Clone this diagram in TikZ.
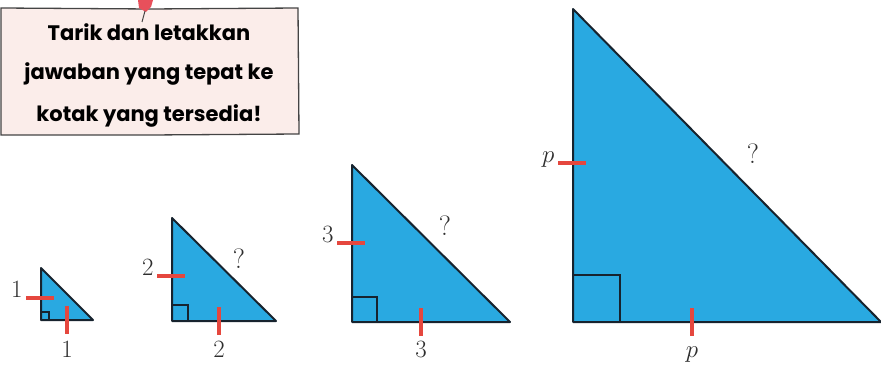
\documentclass[tikz,border=0pt]{standalone}
\usepackage{fontspec}
\newfontfamily\notefont{Poppins}
\usetikzlibrary{positioning}
\definecolor{skyfill}{HTML}{29A9E1}
\definecolor{edgeink}{HTML}{17232E}
\definecolor{tickred}{HTML}{E5473E}
\definecolor{notepink}{HTML}{FBEDEA}
\definecolor{noteline}{HTML}{444444}
\definecolor{labelgray}{HTML}{2E2E2E}
\definecolor{pinred}{HTML}{E8505B}
\begin{document}
\begin{tikzpicture}[x=1pt,y=-1pt,every node/.style={text=labelgray,font=\fontsize{23}{26}\selectfont},
  tick/.style={draw=tickred,line width=3.6pt},
  sideline/.style={draw=edgeink,line width=2pt,line join=round},
  notetext/.style={text=black,font=\notefont\bfseries\fontsize{21}{24}\selectfont}]
\useasboundingbox (0,0) rectangle (881,374);
% Note card with the drag-and-drop instruction, pinned at the top.
\draw[draw=noteline,fill=notepink,line width=1.3pt] (1,8) -- (150,9) -- (298,8) -- (299,134) -- (150,135) -- (1,135) -- cycle;
\fill[pinred] (138,0) -- (153,0) -- (151,7) -- (146,12) -- (139,8) -- cycle;
\draw[noteline,line width=1pt] (145,11) -- (142,22);
\node[notetext] (line1) at (149,32) {Tarik dan letakkan};
\node[notetext] (line2) at (149,74) {jawaban yang tepat ke};
\node[notetext] (line3) at (149,116) {kotak yang tersedia!};
% Four isosceles right triangles, growing from leg 1 to leg p.
\foreach \n/\xl/\yt/\yb/\xr/\sq/\ty/\tx/\lab in {a/41/268/320/93/8/298/67/1,b/172/218/321/276/16/276/219/2,c/352/165/322/510/25/243/421/3,d/573/9/322/881/47/163/692/p}{
  \coordinate (top\n) at (\xl,\yt);
  \coordinate (corner\n) at (\xl,\yb);
  \coordinate (right\n) at (\xr,\yb);
  \fill[skyfill] (top\n) -- (corner\n) -- (right\n) -- cycle;
  \draw[edgeink,line width=1.3pt] (\xl,\yb-\sq) -| (\xl+\sq,\yb);
  \draw[sideline] (top\n) -- (corner\n) -- (right\n) -- cycle;
  \draw[tick] (\xl-15,\ty) -- (\xl+13,\ty);
  \draw[tick] (\tx,\yb-14) -- (\tx,\yb+14);
  \node[anchor=base east] (side\n) at (\xl-15,\ty) {$\lab$};
  \node[anchor=base] (base\n) at (\tx,357) {$\lab$};
}
% Unknown hypotenuses.
\foreach \n/\qx/\qy in {b/239/259,c/445/226,d/753/154}{
  \node[font=\fontsize{28}{30}\selectfont] (hyp\n) at (\qx,\qy) {?};
}
\end{tikzpicture}
\end{document}
